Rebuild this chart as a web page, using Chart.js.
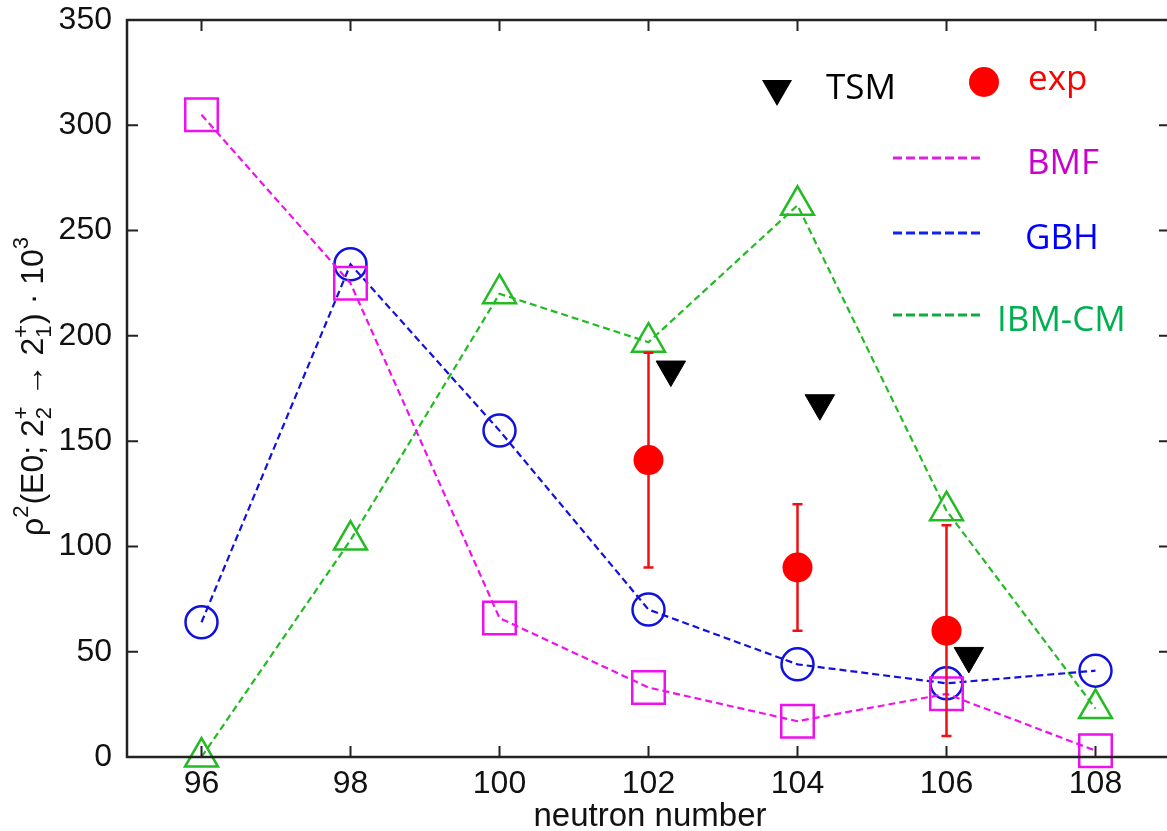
<!DOCTYPE html>
<html>
<head>
<meta charset="utf-8">
<script src="https://cdn.jsdelivr.net/npm/chart.js@4.4.1/dist/chart.umd.min.js"></script>
<style>
  html, body { margin: 0; padding: 0; background: #fff; overflow: hidden; }
  #wrap { width: 1175px; height: 831px; position: relative; }
</style>
</head>
<body>
<div id="wrap"><canvas id="e0Chart" width="1175" height="831"></canvas></div>
<script>
// neutron numbers and model values
const neutrons = [96, 98, 100, 102, 104, 106, 108];
const bmf = [305, 225, 66, 33, 17, 30, 3];
const gbh = [64, 234, 155, 70, 44, 35, 41];
const ibmcm = [0, 103, 220, 197, 262, 117, 23];

// experiment with error bars
const expN = [102, 104, 106];
const expVal = [141, 90, 60];
const expLow = [90, 60, 10];
const expHigh = [192, 120, 110];

// TSM points (drawn slightly right of the even N)
const tsmN = [102.3, 104.3, 106.3];
const tsmVal = [184, 168, 48];

const yTicks = [0, 50, 100, 150, 200, 250, 300, 350];

const AXIS_FONT = '"Liberation Sans", Arial, sans-serif';
const LEG_FONT = '"Open Sans", "Noto Sans", sans-serif';

function pts(xs, ys) {
  return xs.map((x, i) => ({ x: x, y: ys[i] }));
}

// inward ticks on all four sides + box
const frameTicks = {
  id: 'frameTicks',
  afterDraw(chart) {
    const ctx = chart.ctx, a = chart.chartArea;
    const xs = chart.scales.x, ys = chart.scales.y;
    ctx.save();
    ctx.strokeStyle = '#222';
    ctx.lineWidth = 2.5;
    ctx.strokeRect(a.left, a.top, a.right - a.left, a.bottom - a.top);
    ctx.lineWidth = 2;
    ctx.beginPath();
    neutrons.forEach(v => {
      const px = xs.getPixelForValue(v);
      ctx.moveTo(px, a.bottom); ctx.lineTo(px, a.bottom - 11);
      ctx.moveTo(px, a.top); ctx.lineTo(px, a.top + 11);
    });
    yTicks.forEach(v => {
      const py = ys.getPixelForValue(v);
      ctx.moveTo(a.left, py); ctx.lineTo(a.left + 11, py);
      ctx.moveTo(a.right, py); ctx.lineTo(a.right - 11, py);
    });
    ctx.stroke();
    ctx.restore();
  }
};

// error bars for exp
const errorBars = {
  id: 'errorBars',
  afterDatasetsDraw(chart) {
    const ctx = chart.ctx;
    const xs = chart.scales.x, ys = chart.scales.y;
    ctx.save();
    ctx.strokeStyle = '#ee1111';
    ctx.lineWidth = 2.5;
    expN.forEach((n, i) => {
      const px = xs.getPixelForValue(n);
      const lo = ys.getPixelForValue(expLow[i]);
      const hi = ys.getPixelForValue(expHigh[i]);
      ctx.beginPath();
      ctx.moveTo(px, lo); ctx.lineTo(px, hi);
      ctx.moveTo(px - 5, lo); ctx.lineTo(px + 5, lo);
      ctx.moveTo(px - 5, hi); ctx.lineTo(px + 5, hi);
      ctx.stroke();
      ctx.fillStyle = '#ff0000';
      ctx.beginPath();
      ctx.arc(px, ys.getPixelForValue(expVal[i]), 15, 0, Math.PI * 2);
      ctx.fill();
    });
    ctx.restore();
  }
};

// y title with super/subscripts, x title
const titles = {
  id: 'titles',
  afterDraw(chart) {
    const ctx = chart.ctx;
    ctx.save();
    ctx.fillStyle = '#111';
    ctx.font = '33px ' + AXIS_FONT;
    ctx.textAlign = 'center';
    ctx.textBaseline = 'alphabetic';
    ctx.fillText('neutron number', 650, 826);

    const big = '32px ' + AXIS_FONT, small = '22px ' + AXIS_FONT;
    const parts = [
      { t: 'ρ' }, { sup: '2' }, { t: '(E0; 2' }, { sup: '+', sub: '2' },
      { t: ' → 2' }, { sup: '+', sub: '1' }, { t: ') · 10' }, { sup: '3' }
    ];
    let total = 0;
    parts.forEach(p => {
      if (p.t) { ctx.font = big; p.w = ctx.measureText(p.t).width; }
      else {
        ctx.font = small;
        p.w = Math.max(ctx.measureText(p.sup || '').width, ctx.measureText(p.sub || '').width) + 1;
      }
      total += p.w;
    });
    ctx.translate(43, 386);
    ctx.rotate(-Math.PI / 2);
    ctx.textAlign = 'left';
    let x = -total / 2;
    parts.forEach(p => {
      if (p.t) { ctx.font = big; ctx.fillText(p.t, x, 0); }
      else {
        ctx.font = small;
        if (p.sup) ctx.fillText(p.sup, x, -15);
        if (p.sub) ctx.fillText(p.sub, x, 8);
      }
      x += p.w;
    });
    ctx.restore();
  }
};

// hand-placed legend like the reference
const legendBox = {
  id: 'legendBox',
  afterDraw(chart) {
    const ctx = chart.ctx;
    ctx.save();
    ctx.textBaseline = 'middle';
    ctx.textAlign = 'left';
    ctx.font = '35px ' + LEG_FONT;

    // TSM
    ctx.fillStyle = '#000';
    ctx.beginPath();
    ctx.moveTo(762, 80); ctx.lineTo(792, 80); ctx.lineTo(777, 106); ctx.closePath();
    ctx.fill();
    ctx.fillText('TSM', 826, 89);

    // exp
    ctx.fillStyle = '#ff0000';
    ctx.beginPath();
    ctx.arc(984, 82, 15, 0, Math.PI * 2);
    ctx.fill();
    ctx.fillText('exp', 1028, 80);

    const rows = [
      { label: 'BMF', line: '#dd22dd', text: '#cc00cc', y: 158, tx: 1027 },
      { label: 'GBH', line: '#1122ee', text: '#0000ff', y: 233, tx: 1025 },
      { label: 'IBM-CM', line: '#11aa44', text: '#00b050', y: 315, tx: 997 }
    ];
    rows.forEach(r => {
      ctx.strokeStyle = r.line;
      ctx.lineWidth = 3;
      ctx.setLineDash([9, 4]);
      ctx.beginPath();
      ctx.moveTo(893, r.y); ctx.lineTo(983, r.y);
      ctx.stroke();
      ctx.setLineDash([]);
      ctx.fillStyle = r.text;
      ctx.fillText(r.label, r.tx, r.y + 6);
    });
    ctx.restore();
  }
};

function modelSet(label, ys, color, style, radius) {
  return {
    label: label,
    data: pts(neutrons, ys),
    borderColor: color,
    borderWidth: 2.2,
    borderDash: [7, 4],
    pointStyle: style,
    pointRadius: radius,
    pointBorderWidth: 2.5,
    pointBorderColor: color,
    pointBackgroundColor: 'rgba(0,0,0,0)',
    showLine: true,
    fill: false,
    tension: 0,
    clip: false
  };
}

const ctx = document.getElementById('e0Chart').getContext('2d');
const e0Chart = new Chart(ctx, {
  type: 'scatter',
  data: {
    datasets: [
      modelSet('BMF', bmf, '#ee11ee', 'rect', 23),
      modelSet('GBH', gbh, '#1111dd', 'circle', 16),
      modelSet('IBM-CM', ibmcm, '#22bb22', 'triangle', 19),
      {
        label: 'TSM',
        data: pts(tsmN, tsmVal),
        pointStyle: 'triangle',
        rotation: 180,
        pointRadius: 17,
        pointBackgroundColor: '#000',
        pointBorderColor: '#000',
        pointBorderWidth: 1,
        showLine: false,
        clip: false
      }
    ]
  },
  options: {
    responsive: false,
    animation: false,
    devicePixelRatio: 1,
    layout: { autoPadding: false, padding: { top: 20, right: 5, left: 0, bottom: 0 } },
    plugins: {
      legend: { display: false },
      tooltip: { enabled: false },
      title: { display: false }
    },
    scales: {
      x: {
        type: 'linear',
        min: 95,
        max: 109,
        afterBuildTicks: s => { s.ticks = neutrons.map(v => ({ value: v })); },
        afterFit: s => { s.height = 74; s.paddingLeft = 0; s.paddingRight = 0; },
        grid: { drawOnChartArea: false, drawTicks: false },
        border: { display: false },
        ticks: {
          color: '#111',
          font: { family: AXIS_FONT, size: 32 },
          padding: 8,
          maxRotation: 0,
          autoSkip: false
        }
      },
      y: {
        min: 0,
        max: 350,
        afterBuildTicks: s => { s.ticks = yTicks.map(v => ({ value: v })); },
        afterFit: s => { s.width = 127; s.paddingTop = 0; s.paddingBottom = 0; },
        grid: { drawOnChartArea: false, drawTicks: false },
        border: { display: false },
        ticks: {
          color: '#111',
          font: { family: AXIS_FONT, size: 32 },
          padding: 15
        }
      }
    }
  },
  plugins: [frameTicks, errorBars, titles, legendBox]
});
</script>
</body>
</html>
